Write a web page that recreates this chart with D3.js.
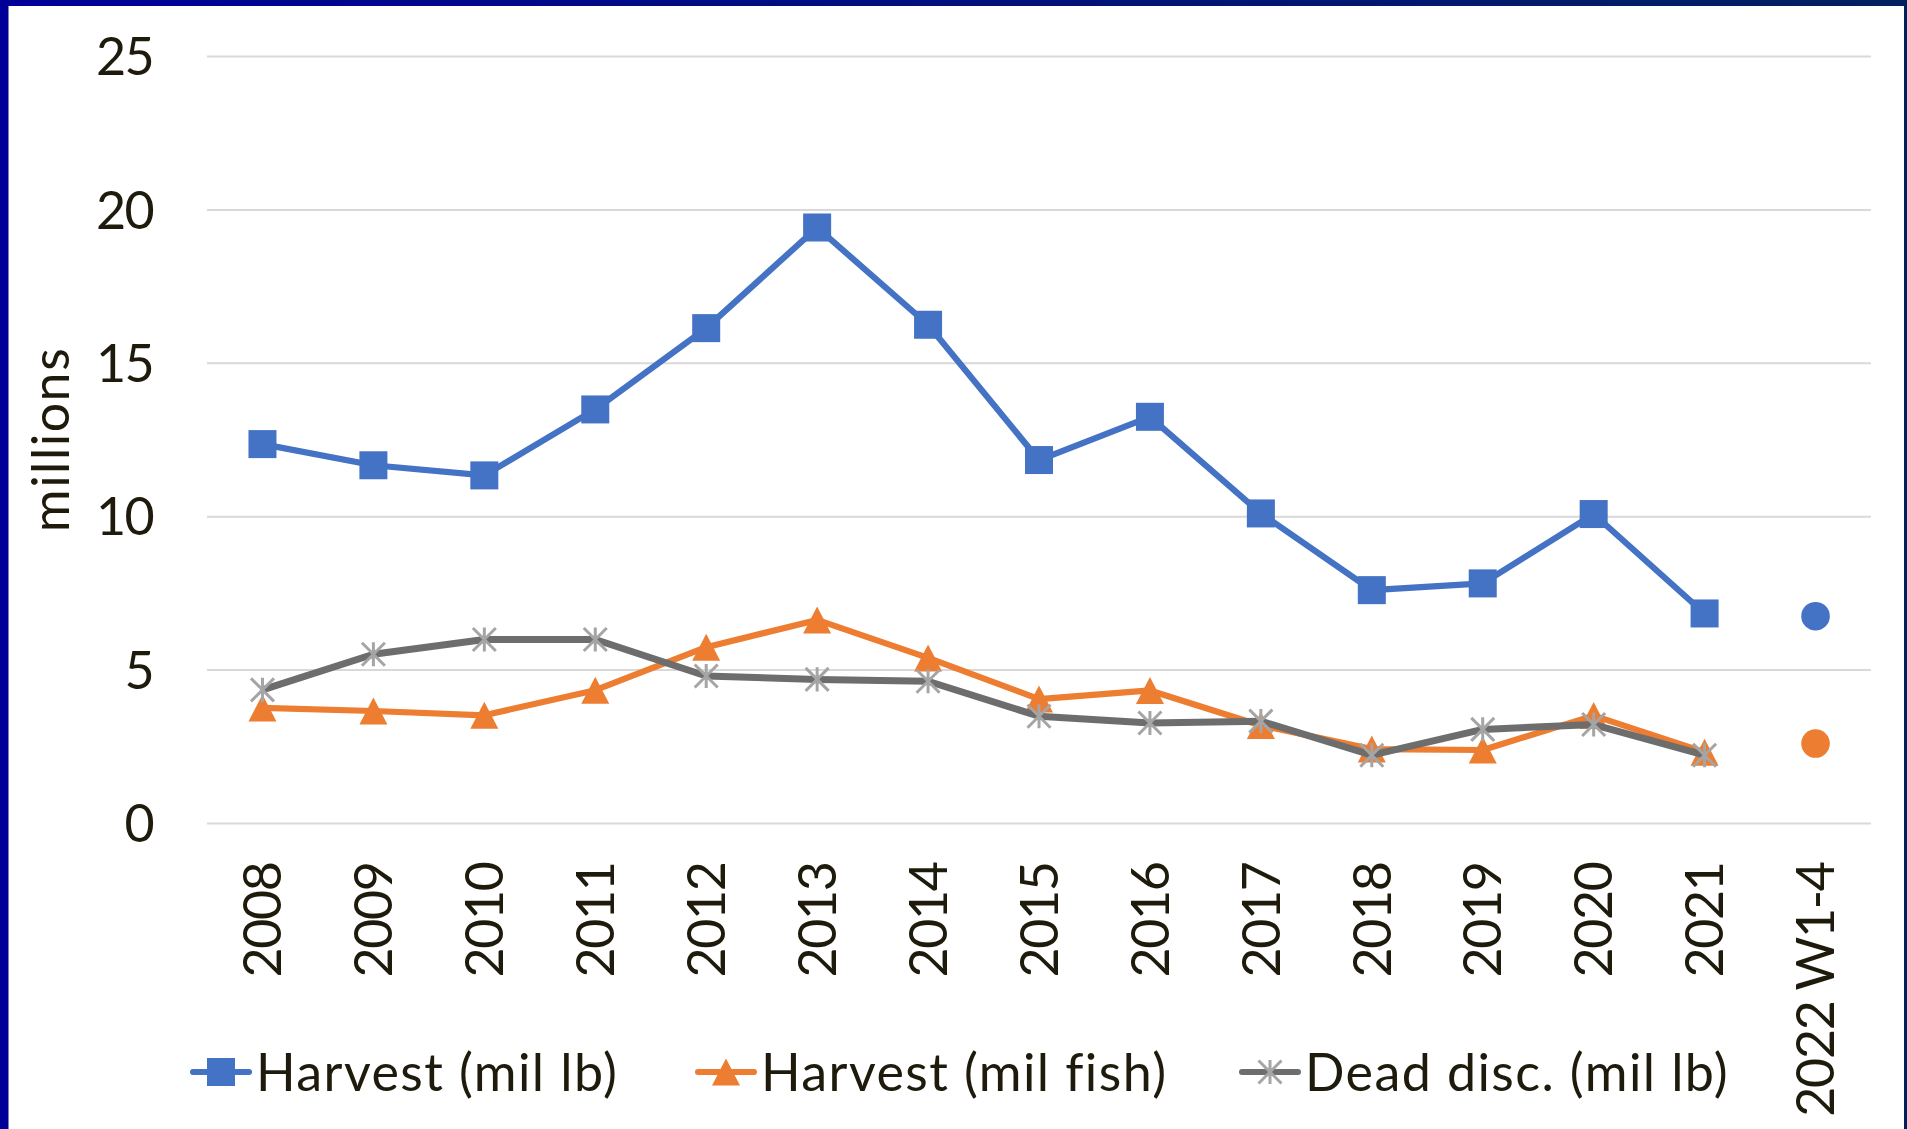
<!DOCTYPE html>
<html>
<head>
<meta charset="utf-8">
<script src="https://cdn.jsdelivr.net/npm/d3@7"></script>
<style>
  html, body { margin: 0; padding: 0; background: #ffffff; }
  svg { display: block; }
  text { font-family: Lato, "Open Sans", sans-serif; fill: #1E1A0C; }
</style>
</head>
<body>
<svg id="chart" width="1907" height="1129"></svg>
<script>
// ---- data ----
const categories = ["2008","2009","2010","2011","2012","2013","2014","2015","2016","2017","2018","2019","2020","2021","2022 W1-4"];
const harvestLb   = [12.35, 11.66, 11.33, 13.48, 16.13, 19.41, 16.24, 11.83, 13.24, 10.09, 7.59, 7.81, 10.07, 6.83, null];
const harvestFish = [3.75, 3.65, 3.51, 4.33, 5.73, 6.62, 5.38, 4.04, 4.32, 3.18, 2.41, 2.38, 3.50, 2.31, null];
const deadDisc    = [4.34, 5.50, 5.98, 5.98, 4.79, 4.68, 4.62, 3.48, 3.26, 3.32, 2.21, 3.05, 3.21, 2.21, null];
const partialLb   = [null, null, null, null, null, null, null, null, null, null, null, null, null, null, 6.74];
const partialFish = [null, null, null, null, null, null, null, null, null, null, null, null, null, null, 2.59];
const yTicks = [0, 5, 10, 15, 20, 25];
const seriesNames = ["Harvest (mil lb)", "Harvest (mil fish)", "Dead disc. (mil lb)"];
const yTitle = "millions";

// ---- layout ----
const svg = d3.select("#chart");
const W = 1907, H = 1129;
const plot = { left: 207, right: 1871, top: 56, bottom: 823 };
const FS = 52;

// frame border
const defs = svg.append("defs");
const grad = defs.append("linearGradient").attr("id", "topGrad").attr("x1", "0%").attr("x2", "100%");
grad.append("stop").attr("offset", "0%").attr("stop-color", "#000099");
grad.append("stop").attr("offset", "100%").attr("stop-color", "#002060");
svg.append("rect").attr("x", 0).attr("y", 0).attr("width", W).attr("height", 6).attr("fill", "url(#topGrad)");
svg.append("rect").attr("x", 0).attr("y", 0).attr("width", 8.5).attr("height", H).attr("fill", "#000099");
svg.append("rect").attr("x", 1904).attr("y", 0).attr("width", 3).attr("height", H).attr("fill", "#002060");

const x = d3.scaleBand().domain(categories).range([plot.left, plot.right]).padding(0);
const y = d3.scaleLinear().domain([0, 25]).range([plot.bottom, plot.top]);
const cx = c => x(c) + x.bandwidth() / 2;

// y axis with gridlines
const yAxis = svg.append("g")
  .attr("transform", `translate(${plot.left},0)`)
  .call(d3.axisLeft(y).tickValues(yTicks).tickSize(-(plot.right - plot.left)).tickPadding(54).tickFormat(d3.format("d")));
yAxis.select(".domain").remove();
yAxis.selectAll(".tick line").attr("stroke", "#D9D9D9").attr("stroke-width", 2);
yAxis.selectAll(".tick text").attr("font-size", FS).attr("fill", "#1E1A0C").attr("dy", "0.36em")
  .attr("letter-spacing", -1.6);

// x axis
const xAxis = svg.append("g")
  .attr("transform", `translate(0,${plot.bottom})`)
  .call(d3.axisBottom(x).tickSize(0).tickPadding(0));
xAxis.select(".domain").remove();
xAxis.selectAll(".tick text")
  .attr("font-size", FS).attr("fill", "#1E1A0C")
  .attr("letter-spacing", -1.4)
  .attr("transform", "rotate(-90)")
  .attr("text-anchor", "end")
  .attr("x", -39.5).attr("y", 0).attr("dy", "0.36em");

// axis title
svg.append("text")
  .attr("transform", `translate(69,${(plot.top + plot.bottom) / 2}) rotate(-90)`)
  .attr("text-anchor", "middle")
  .attr("font-size", FS)
  .attr("letter-spacing", 1.5)
  .text(yTitle);

// series
const BLUE = "#4472C4", ORANGE = "#ED7D31", GRAY = "#6D6D6D", LIGHTGRAY = "#A5A5A5";
const pts = arr => categories.map((c, i) => ({ c, v: arr[i] })).filter(d => d.v != null);
const line = d3.line().x(d => cx(d.c)).y(d => y(d.v));

function drawSquare(g, px, py, s) {
  g.append("rect").attr("x", px - s / 2).attr("y", py - s / 2).attr("width", s).attr("height", s).attr("fill", BLUE);
}
function drawTriangle(g, px, py, w, h) {
  g.append("path").attr("d", `M${px},${py - h / 2}L${px + w / 2},${py + h / 2}L${px - w / 2},${py + h / 2}Z`).attr("fill", ORANGE);
}
function drawStar(g, px, py, s) {
  const r = s / 2;
  const d = `M${px - r},${py - r}L${px + r},${py + r}M${px - r},${py + r}L${px + r},${py - r}M${px},${py - r * 1.05}L${px},${py + r * 1.05}`;
  g.append("path").attr("d", d).attr("stroke", LIGHTGRAY).attr("stroke-width", 3).attr("fill", "none");
}

// Harvest (mil lb)
const gB = svg.append("g");
gB.append("path").datum(pts(harvestLb)).attr("d", line).attr("fill", "none").attr("stroke", BLUE).attr("stroke-width", 6.2).attr("stroke-linejoin", "round");
pts(harvestLb).forEach(d => drawSquare(gB, cx(d.c), y(d.v), 28));

// Harvest (mil fish)
const gO = svg.append("g");
gO.append("path").datum(pts(harvestFish)).attr("d", line).attr("fill", "none").attr("stroke", ORANGE).attr("stroke-width", 6.2).attr("stroke-linejoin", "round");
pts(harvestFish).forEach(d => drawTriangle(gO, cx(d.c), y(d.v), 28, 27));

// Dead discards
const gG = svg.append("g");
gG.append("path").datum(pts(deadDisc)).attr("d", line).attr("fill", "none").attr("stroke", GRAY).attr("stroke-width", 7).attr("stroke-linejoin", "round");
pts(deadDisc).forEach(d => drawStar(gG, cx(d.c), y(d.v), 23));

// partial-year points
svg.append("g").selectAll("circle").data(pts(partialLb)).join("circle")
  .attr("cx", d => cx(d.c)).attr("cy", d => y(d.v)).attr("r", 14.3).attr("fill", BLUE);
svg.append("g").selectAll("circle").data(pts(partialFish)).join("circle")
  .attr("cx", d => cx(d.c)).attr("cy", d => y(d.v)).attr("r", 14.3).attr("fill", ORANGE);

// legend
const legendY = 1072;
const legendStarts = [190, 695, 1239];
const legendColors = [BLUE, ORANGE, GRAY];
seriesNames.forEach((name, i) => {
  const g = svg.append("g");
  const x0 = legendStarts[i];
  g.append("line").attr("x1", x0 + 3).attr("x2", x0 + 59).attr("y1", legendY).attr("y2", legendY)
    .attr("stroke", legendColors[i]).attr("stroke-width", 6).attr("stroke-linecap", "round");
  const mx = x0 + 31;
  if (i === 0) drawSquare(g, mx, legendY, 28);
  if (i === 1) drawTriangle(g, mx, legendY, 28, 27);
  if (i === 2) drawStar(g, mx, legendY, 23);
  g.append("text").attr("x", x0 + 66).attr("y", legendY).attr("dy", "0.36em").attr("font-size", FS)
    .attr("letter-spacing", 1.4).text(name);
});
</script>
</body>
</html>
